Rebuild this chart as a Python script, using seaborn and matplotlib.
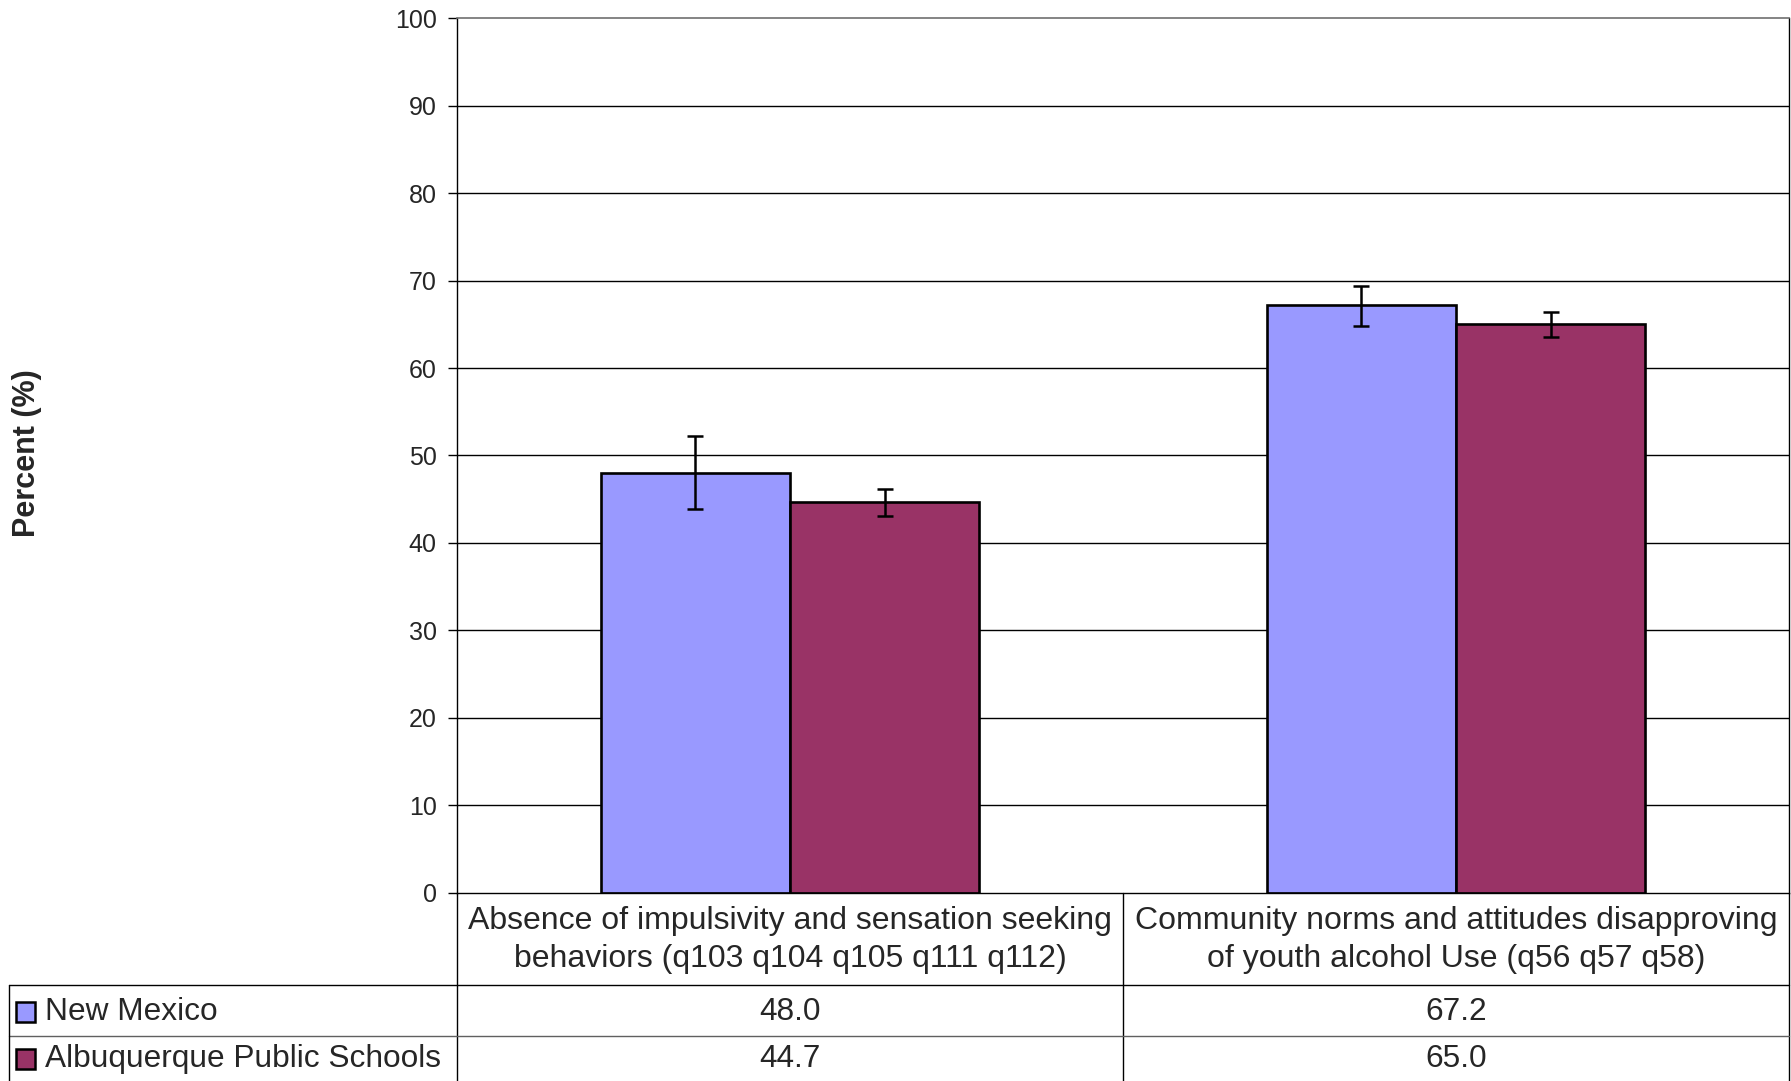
import pandas as pd
import matplotlib
matplotlib.use("Agg")
import matplotlib.pyplot as plt
from matplotlib.patches import Rectangle
import seaborn as sns

# data
categories = [
    "Absence of impulsivity and sensation seeking\nbehaviors (q103 q104 q105 q111 q112)",
    "Community norms and attitudes disapproving\nof youth alcohol Use (q56 q57 q58)",
]
series = ["New Mexico", "Albuquerque Public Schools"]
new_mexico = [48.0, 67.2]
new_mexico_lo = [43.9, 64.8]
new_mexico_hi = [52.2, 69.4]
aps = [44.7, 65.0]
aps_lo = [43.1, 63.5]
aps_hi = [46.2, 66.4]
colors = ["#9999FF", "#993366"]
y_ticks = list(range(0, 101, 10))

df = pd.DataFrame({
    "category": categories * 2,
    "series": [series[0]] * 2 + [series[1]] * 2,
    "value": new_mexico + aps,
    "lo": new_mexico_lo + aps_lo,
    "hi": new_mexico_hi + aps_hi,
})

sns.set_style("white")
plt.rcParams["font.family"] = ["Liberation Sans", "DejaVu Sans"]

W, H = 1791, 1081
fig = plt.figure(figsize=(W / 100, H / 100), dpi=100)

# plot area in pixel terms
left, right, top, bottom = 457, 1789, 18.3, 892.7
ax = fig.add_axes([left / W, 1 - bottom / H, (right - left) / W, (bottom - top) / H])

sns.barplot(data=df, x="category", y="value", hue="series", palette=colors,
            saturation=1, width=0.568, gap=0, errorbar=None,
            edgecolor="black", linewidth=1.9, legend=False, ax=ax)

# error bars at the bar centres
for patch, (_, row) in zip(ax.patches, df.iterrows()):
    cx = patch.get_x() + patch.get_width() / 2
    ax.errorbar(cx, row["value"],
                yerr=[[row["value"] - row["lo"]], [row["hi"] - row["value"]]],
                fmt="none", ecolor="black", elinewidth=1.8, capsize=5.8, capthick=1.8,
                zorder=5)

ax.set_xlim(-0.5, 1.5)
ax.set_ylim(0, 100)
ax.set_yticks(y_ticks)
ax.set_yticklabels([str(t) for t in y_ticks], fontsize=18)
ax.set_xticks([])
ax.set_xlabel("")
ax.set_ylabel("")
ax.tick_params(axis="y", direction="out", length=6.5, width=1, color="black", pad=8, left=True)
for t in y_ticks[1:-1]:
    ax.axhline(t, color="black", lw=1, zorder=0)
for side in ["left", "bottom", "right"]:
    ax.spines[side].set_color("black")
    ax.spines[side].set_linewidth(1)
ax.spines["top"].set_color("#707070")
ax.spines["top"].set_linewidth(1.2)

fig.text(27 / W, 1 - 453 / H, "Percent (%)", rotation=90, ha="center", va="center",
         fontsize=22, fontweight="bold")

# data table underneath, drawn on a pixel-space overlay
tab = fig.add_axes([0, 0, 1, 1], facecolor="none")
tab.set_xlim(0, W)
tab.set_ylim(H, 0)
tab.axis("off")

col_mid = left + (right - left) / 2
head_bottom, row_split = 985.3, 1035.7
lk = dict(color="black", lw=1)
tab.plot([left, left], [bottom, H], **lk)
tab.plot([col_mid, col_mid], [bottom, H], **lk)
tab.plot([right, right], [bottom, H], **lk)
tab.plot([9, right], [head_bottom, head_bottom], **lk)
tab.plot([9, right], [row_split, row_split], color="#606060", lw=1)
tab.plot([9, 9], [head_bottom, H], **lk)

centers = [left + (right - left) * 0.25, left + (right - left) * 0.75]
for cx, label in zip(centers, categories):
    tab.text(cx, (bottom + head_bottom) / 2 + 1, label, ha="center", va="center",
             fontsize=23, linespacing=1.38)

row_y = [(head_bottom + row_split) / 2 + 1, (row_split + H) / 2 + 1]
for ry, name, vals, c in zip(row_y, series, [new_mexico, aps], colors):
    tab.add_patch(Rectangle((15.5, ry - 10), 19, 20, facecolor=c, edgecolor="black", lw=1.8))
    tab.text(45, ry, name, ha="left", va="center", fontsize=22.8)
    for cx, v in zip(centers, vals):
        tab.text(cx, ry, f"{v:.1f}", ha="center", va="center", fontsize=22.8)

fig.savefig("out.png", dpi=100)
